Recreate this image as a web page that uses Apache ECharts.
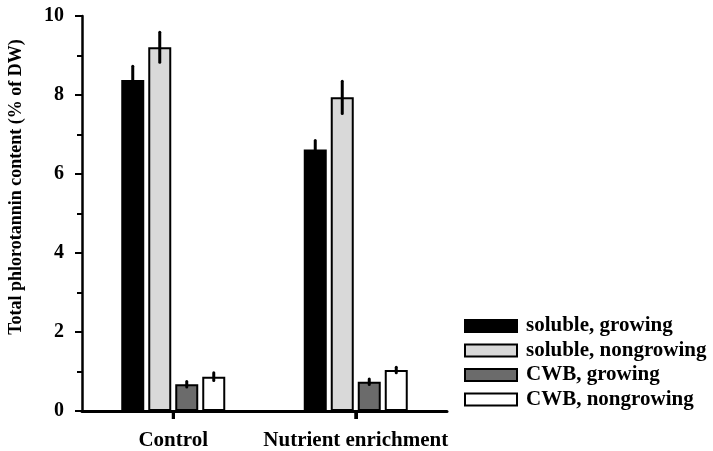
<!DOCTYPE html>
<html>
<head>
<meta charset="utf-8">
<script src="https://cdn.jsdelivr.net/npm/echarts@6/dist/echarts.min.js"></script>
<style>
  html, body { margin: 0; padding: 0; background: #fff; }
  #chart { width: 713px; height: 451px; }
</style>
</head>
<body>
<div id="chart"></div>
<script>
// Treatments on the x axis
const categories = ['Control', 'Nutrient enrichment'];

// Phlorotannin fractions (% of dry weight), one value per treatment
const seriesNames = ['soluble, growing', 'soluble, nongrowing', 'CWB, growing', 'CWB, nongrowing'];
const solubleGrowing = [8.38, 6.62];
const solubleNongrowing = [9.21, 7.94];
const cwbGrowing = [0.68, 0.74];
const cwbNongrowing = [0.87, 1.04];

// Standard errors for the same bars
const solubleGrowingErr = [0.35, 0.23];
const solubleNongrowingErr = [0.38, 0.41];
const cwbGrowingErr = [0.07, 0.07];
const cwbNongrowingErr = [0.10, 0.07];

// Y axis ticks
const yTicks = [0, 2, 4, 6, 8, 10];

const means = [solubleGrowing, solubleNongrowing, cwbGrowing, cwbNongrowing];
const errs = [solubleGrowingErr, solubleNongrowingErr, cwbGrowingErr, cwbNongrowingErr];
const fills = ['#000000', '#d9d9d9', '#6b6b6b', '#ffffff'];

const FONT = '"Liberation Serif", "Times New Roman", serif';
const BAR_W = 23;
const BAR_GAP = 4;

const barSeries = seriesNames.map((name, i) => ({
  name: name,
  type: 'bar',
  data: means[i],
  barWidth: BAR_W,
  barGap: (BAR_GAP / BAR_W * 100) + '%',
  itemStyle: { color: fills[i], borderColor: '#000', borderWidth: 2 },
  z: 2
}));

// Error bar rows: [categoryIndex, seriesIndex, low, high]
const errData = [];
means.forEach((arr, s) => {
  arr.forEach((v, c) => {
    errData.push([c, s, v - errs[s][c], v + errs[s][c]]);
  });
});

const errorSeries = {
  type: 'custom',
  name: 'error',
  data: errData,
  encode: { x: 0, y: [2, 3] },
  z: 5,
  renderItem: function (params, api) {
    const c = api.value(0);
    const s = api.value(1);
    const lo = api.coord([c, api.value(2)]);
    const hi = api.coord([c, api.value(3)]);
    const total = 4 * BAR_W + 3 * BAR_GAP;
    const x = lo[0] - total / 2 + BAR_W / 2 + s * (BAR_W + BAR_GAP);
    return {
      type: 'line',
      shape: { x1: x, y1: lo[1], x2: x, y2: hi[1] },
      style: { stroke: '#000', lineWidth: 3, lineCap: 'round' }
    };
  }
};

// Short tick marks below the x axis at each treatment's centre
const categoryTicks = {
  type: 'custom',
  name: 'categoryTick',
  data: categories.map((_, i) => [i, 0]),
  encode: { x: 0, y: 1 },
  clip: false,
  z: 6,
  silent: true,
  renderItem: function (params, api) {
    const p = api.coord([api.value(0), 0]);
    return {
      type: 'rect',
      shape: { x: p[0] - 1.5, y: p[1], width: 3, height: 8 },
      style: { fill: '#000' }
    };
  }
};

const chart = echarts.init(document.getElementById('chart'), null, { renderer: 'canvas' });
chart.setOption({
  animation: false,
  backgroundColor: '#fff',
  grid: { left: 82, right: 266, top: 16, bottom: 39, containLabel: false },
  legend: {
    data: seriesNames,
    orient: 'vertical',
    left: 464,
    top: 315,
    padding: 0,
    icon: 'rect',
    itemWidth: 52,
    itemHeight: 12,
    itemGap: 2.5,
    itemStyle: { borderColor: '#000', borderWidth: 2 },
    textStyle: { fontFamily: FONT, fontWeight: 'bold', fontSize: 21, color: '#000', lineHeight: 22, padding: [0, 0, 0, 4] }
  },
  xAxis: {
    type: 'category',
    data: categories,
    axisLine: { show: true, lineStyle: { color: '#000', width: 3 } },
    axisTick: { show: true, interval: 0, alignWithLabel: true, length: 8, lineStyle: { color: '#000', width: 3 } },
    axisLabel: { interval: 0, margin: 19, fontFamily: FONT, fontWeight: 'bold', fontSize: 21, color: '#000' }
  },
  yAxis: {
    type: 'value',
    min: yTicks[0],
    max: yTicks[yTicks.length - 1],
    interval: 2,
    axisLine: { show: true, lineStyle: { color: '#000', width: 2.5 } },
    axisTick: { show: true, length: 7, lineStyle: { color: '#000', width: 2 } },
    minorTick: { show: true, splitNumber: 2, length: 5, lineStyle: { color: '#000', width: 2 } },
    splitLine: { show: false },
    axisLabel: { margin: 18, fontFamily: FONT, fontWeight: 'bold', fontSize: 20, color: '#000' }
  },
  graphic: [{
    type: 'text',
    x: 16,
    y: 187,
    rotation: Math.PI / 2,
    style: {
      text: 'Total phlorotannin content (% of DW)',
      font: 'bold 18px ' + FONT,
      fill: '#000',
      align: 'center',
      verticalAlign: 'middle'
    }
  }],
  series: barSeries.concat([errorSeries, categoryTicks])
});
</script>
</body>
</html>
